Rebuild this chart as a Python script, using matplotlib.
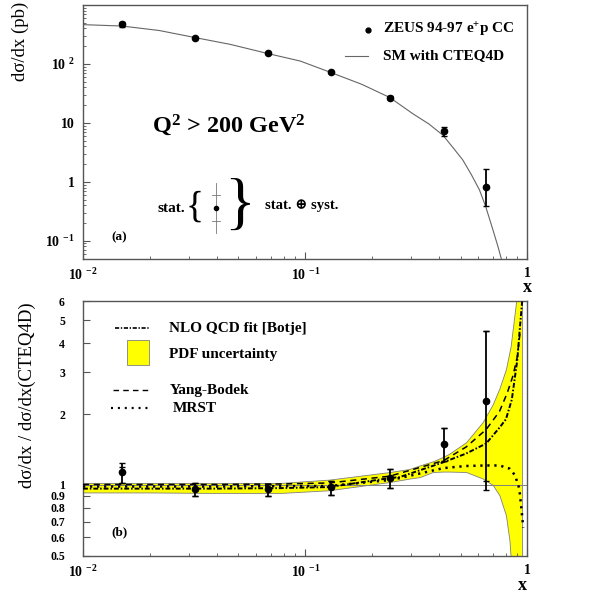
import matplotlib
matplotlib.use('Agg')
import matplotlib.pyplot as plt
from matplotlib.patches import Rectangle
from matplotlib.ticker import FixedLocator, NullLocator, NullFormatter

plt.rcParams['font.family'] = ['Liberation Serif', 'DejaVu Serif']
plt.rcParams['mathtext.fontset'] = 'custom'
plt.rcParams['mathtext.rm'] = 'Liberation Serif:bold'
plt.rcParams['mathtext.it'] = 'Liberation Serif:bold'
plt.rcParams['mathtext.bf'] = 'Liberation Serif:bold'

# ZEUS data points (x bins)
x_bins = [0.015, 0.032, 0.068, 0.13, 0.24, 0.42, 0.65]
xsec = [475, 281, 153, 72.6, 26.8, 7.2, 0.83]
xsec_hi = [514, 292, 160, 76, 28.6, 8.5, 1.64]
xsec_lo = [431, 270, 146, 69, 25.0, 5.9, 0.385]

# SM (CTEQ4D) prediction
sm_x = [0.01, 0.015, 0.022, 0.032, 0.046, 0.068, 0.095, 0.13, 0.18, 0.24,
        0.305, 0.36, 0.416, 0.46, 0.512, 0.56, 0.608, 0.648, 0.698, 0.735, 0.762]
sm_y = [465, 440, 370, 280, 215, 150, 112, 72, 45, 27,
        14.3, 9.6, 6.2, 3.9, 2.34, 1.31, 0.73, 0.385, 0.156, 0.082, 0.05]

# ratio to CTEQ4D
ratio = [1.13, 0.96, 0.96, 0.98, 1.07, 1.49, 2.27]
ratio_hi = [1.245, 1.024, 1.01, 1.036, 1.17, 1.75, 4.5]
ratio_lo = [1.02, 0.895, 0.895, 0.904, 0.975, 1.27, 0.95]
stat_hi = [1.19, 1.024, 1.01, 1.036, 1.17, 1.75, 4.5]
stat_lo = [1.02, 0.895, 0.895, 0.904, 0.975, 1.27, 1.036]

# PDF uncertainty band
band_x = [0.01, 0.02, 0.04, 0.077, 0.128, 0.24, 0.295, 0.327, 0.375, 0.416,
          0.446, 0.53, 0.629, 0.698, 0.748, 0.80, 0.83, 0.839, 0.889, 0.946]
band_hi = [1.02, 1.02, 1.02, 1.02, 1.054, 1.135, 1.17, 1.21, 1.26, 1.315,
           1.36, 1.52, 1.85, 2.2, 2.57, 3.1, 3.67, 3.85, 6.0, 10.0]
band_lo = [0.93, 0.93, 0.925, 0.925, 0.95, 1.03, 1.065, 1.08, 1.135, 1.14,
           1.14, 1.135, 1.065, 1.0, 0.904, 0.744, 0.58, 0.5, 0.3, 0.3]

# NLO QCD fit [Botje]
nlo_x = [0.01, 0.04, 0.077, 0.128, 0.24, 0.266, 0.42, 0.53, 0.652, 0.748,
         0.80, 0.85, 0.875, 0.9, 0.92, 0.946]
nlo_y = [0.965, 0.965, 0.97, 0.98, 1.07, 1.08, 1.25, 1.36, 1.5, 1.75,
         1.9, 2.3, 2.8, 3.4, 4.4, 6.0]

# Yang-Bodek
yb_x = [0.01, 0.04, 0.077, 0.128, 0.24, 0.42, 0.53, 0.652, 0.748, 0.81,
        0.86, 0.9, 0.93]
yb_y = [1.005, 1.005, 1.01, 1.02, 1.09, 1.27, 1.45, 1.72, 2.05, 2.45,
        2.9, 3.5, 4.6]

# MRST
mrst_x = [0.01, 0.04, 0.077, 0.128, 0.24, 0.266, 0.42, 0.53, 0.652, 0.748,
          0.83, 0.879, 0.919, 0.942, 0.957]
mrst_y = [0.985, 0.985, 0.99, 0.99, 1.05, 1.07, 1.18, 1.204, 1.21, 1.21,
          1.174, 1.1, 0.965, 0.77, 0.66]

xticks = [0.01, 0.1, 1]
xticklabels = ['10 $^{-2}$', '10 $^{-1}$', '1']
yticks_top = [0.1, 1, 10, 100]
yticklabels_top = ['10 $^{-1}$', '1', '10', '10 $^{2}$']
yticks_bot = [0.5, 0.6, 0.7, 0.8, 0.9, 1, 2, 3, 4, 5, 6]

fig = plt.figure(figsize=(5.99, 5.99), dpi=100)
ax1 = fig.add_axes([0.1386, 0.5684, 0.742, 0.4232])
ax2 = fig.add_axes([0.1386, 0.0718, 0.742, 0.4249])

frame_col = '#555555'
for ax in (ax1, ax2):
    ax.set_xscale('log')
    ax.set_yscale('log')
    ax.set_xlim(0.01, 1)
    for s in ax.spines.values():
        s.set_color(frame_col)
        s.set_linewidth(1.0)
    ax.tick_params(which='both', direction='in', top=False, right=False,
                   color=frame_col, labelsize=10)
    ax.tick_params(which='major', length=5)
    ax.tick_params(which='minor', length=2.5)
    ax.tick_params(axis='x', pad=6)
    ax.xaxis.set_major_locator(FixedLocator(xticks))
    ax.set_xticklabels(xticklabels, fontweight='bold')
    ax.xaxis.set_minor_locator(FixedLocator([m * d for d in (0.01, 0.1) for m in range(2, 10)]))
    ax.xaxis.set_minor_formatter(NullFormatter())

# ---------------- panel (a) ----------------
ax1.set_ylim(0.05, 1000)
ax1.yaxis.set_major_locator(FixedLocator(yticks_top))
ax1.set_yticklabels(yticklabels_top, fontweight='bold')
ax1.yaxis.set_minor_locator(FixedLocator([m * d for d in (0.01, 0.1, 1, 10, 100) for m in range(2, 10)]))
ax1.yaxis.set_minor_formatter(NullFormatter())
ax1.tick_params(axis='y', pad=6)

ax1.plot(sm_x, sm_y, color='#666666', lw=0.8)
err_top = [[v - l for v, l in zip(xsec, xsec_lo)], [h - v for v, h in zip(xsec, xsec_hi)]]
ax1.errorbar(x_bins, xsec, yerr=err_top, fmt='o', color='black', ms=4.5,
             elinewidth=1.3, capsize=2.5, capthick=1.0)

# legend (a)
ax1.plot([0.641], [0.901], 'o', color='black', ms=3.5, transform=ax1.transAxes)
ax1.text(0.675, 0.901, 'ZEUS 94-97 e$^{+}$p CC', transform=ax1.transAxes,
         fontsize=11, fontweight='bold', va='center')
ax1.plot([0.589, 0.641], [0.799, 0.799], color='#666666', lw=0.8, transform=ax1.transAxes)
ax1.text(0.675, 0.799, 'SM with CTEQ4D', transform=ax1.transAxes,
         fontsize=11, fontweight='bold', va='center')

ax1.text(0.155, 0.527, 'Q$^{2}$ > 200 GeV$^{2}$', transform=ax1.transAxes,
         fontsize=17.5, fontweight='bold', va='center')
ax1.text(0.081, 0.085, '(a)', transform=ax1.transAxes, fontsize=9.5,
         fontweight='bold', ha='center', va='center')

# stat / syst key
ax1.text(0.1665, 0.199, 'stat.', transform=ax1.transAxes, fontsize=11,
         fontweight='bold', va='center')
ax1.text(0.252, 0.2, '{', transform=ax1.transAxes, fontsize=27,
         ha='center', va='center')
ax1.plot([0.299, 0.299], [0.101, 0.298], color='#777777', lw=0.6, transform=ax1.transAxes)
for ty in (0.150, 0.250):
    ax1.plot([0.290, 0.308], [ty, ty], color='#777777', lw=0.6, transform=ax1.transAxes)
ax1.plot([0.299], [0.2], 'o', color='black', ms=3, transform=ax1.transAxes)
ax1.text(0.353, 0.2, '}', transform=ax1.transAxes, fontsize=46,
         ha='center', va='center')
ax1.text(0.409, 0.211, 'stat. \u2295 syst.', transform=ax1.transAxes, fontsize=10.5,
         fontweight='bold', va='center')

# ---------------- panel (b) ----------------
ax2.set_ylim(0.5, 6)
ax2.yaxis.set_major_locator(FixedLocator(yticks_bot))
ax2.set_yticklabels([f'{v:g}' for v in yticks_bot], fontweight='bold')
ax2.yaxis.set_minor_locator(NullLocator())
ax2.tick_params(axis='y', pad=13, labelsize=8.5)

ax2.fill_between(band_x, band_lo, band_hi, facecolor='#ffff00',
                 edgecolor='#808080', lw=0.6, zorder=1)
ax2.axhline(1.0, color='#808080', lw=0.7, zorder=2)
ax2.plot(yb_x, yb_y, color='black', lw=1.1, ls=(0, (4, 3)), zorder=3)
ax2.plot(nlo_x, nlo_y, color='black', lw=1.4, ls=(0, (2.5, 1, 0.8, 1)), zorder=3)
ax2.plot(mrst_x, mrst_y, color='black', lw=1.8, ls=(0, (0.9, 1.9)), zorder=3)

err_bot = [[v - l for v, l in zip(ratio, ratio_lo)], [h - v for v, h in zip(ratio, ratio_hi)]]
ax2.errorbar(x_bins, ratio, yerr=err_bot, fmt='o', color='black', ms=4.5,
             elinewidth=1.3, capsize=2.5, capthick=1.0, zorder=4)
ax2.plot(x_bins, stat_hi, '_', color='black', ms=5, mew=1.0, zorder=4)
ax2.plot(x_bins, stat_lo, '_', color='black', ms=5, mew=1.0, zorder=4)

# legend (b)
ax2.plot([0.072, 0.151], [0.895, 0.895], color='black', lw=1.2,
         ls=(0, (2.5, 1, 0.8, 1)), transform=ax2.transAxes)
ax2.text(0.194, 0.895, 'NLO QCD fit [Botje]', transform=ax2.transAxes,
         fontsize=11, fontweight='bold', va='center')
ax2.add_patch(Rectangle((0.098, 0.750), 0.051, 0.099, transform=ax2.transAxes,
                        facecolor='#ffff00', edgecolor='#808080', lw=0.6))
ax2.text(0.194, 0.790, 'PDF uncertainty', transform=ax2.transAxes,
         fontsize=11, fontweight='bold', va='center')
ax2.plot([0.068, 0.151], [0.652, 0.652], color='black', lw=1.0, ls=(0, (4, 3)),
         transform=ax2.transAxes)
ax2.text(0.196, 0.652, 'Yang-Bodek', transform=ax2.transAxes,
         fontsize=11, fontweight='bold', va='center')
ax2.plot([0.064, 0.147], [0.580, 0.580], color='black', lw=1.6, ls=(0, (0.9, 2.2)),
         transform=ax2.transAxes)
ax2.text(0.203, 0.580, 'MRST', transform=ax2.transAxes,
         fontsize=11, fontweight='bold', va='center')
ax2.text(0.083, 0.094, '(b)', transform=ax2.transAxes, fontsize=9.5,
         fontweight='bold', ha='center', va='center')

# axis titles
fig.text(20 / 599, 1 - 2 / 599, 'd\u03c3/dx (pb)', rotation=90, fontsize=13.5,
         ha='center', va='top')
fig.text(27 / 599, 1 - 302 / 599, 'd\u03c3/dx / d\u03c3/dx(CTEQ4D)', rotation=90,
         fontsize=13.5, ha='center', va='top')
fig.text(527 / 599, 1 - 287 / 599, 'x', fontsize=13, fontweight='bold',
         ha='center', va='center')
fig.text(522 / 599, 1 - 585 / 599, 'x', fontsize=13, fontweight='bold',
         ha='center', va='center')

fig.savefig('out.png', dpi=100)
